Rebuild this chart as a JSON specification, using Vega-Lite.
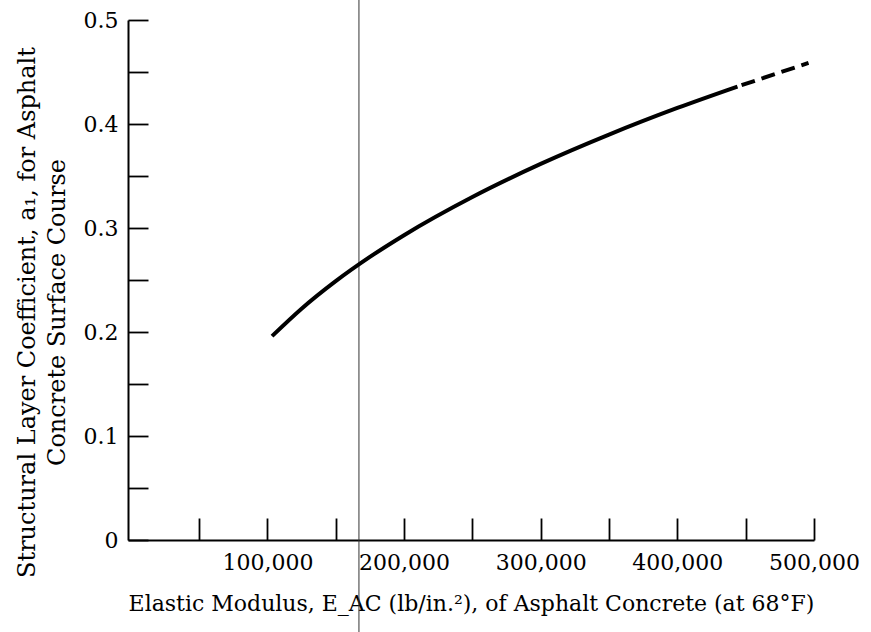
{
  "$schema": "https://vega.github.io/schema/vega-lite/v6.json",
  "width": 686,
  "height": 520,
  "autosize": "none",
  "padding": {"left": 128, "top": 20, "right": 57, "bottom": 92},
  "background": "white",
  "config": {"view": {"stroke": null}, "font": "DejaVu Serif"},
  "datasets": {
    "curve": [
      {"E": 103400, "a1": 0.196},
      {"E": 125000, "a1": 0.2224},
      {"E": 150000, "a1": 0.2489},
      {"E": 175000, "a1": 0.2722},
      {"E": 200000, "a1": 0.2931},
      {"E": 250000, "a1": 0.3298},
      {"E": 300000, "a1": 0.3616},
      {"E": 350000, "a1": 0.3898},
      {"E": 400000, "a1": 0.4154},
      {"E": 444000, "a1": 0.436}
    ],
    "dashed": [
      {"E": 447000, "a1": 0.4373},
      {"E": 496000, "a1": 0.4587}
    ],
    "vline": [
      {"E": 167000, "ytop": 0.52, "ybot": -0.09}
    ]
  },
  "layer": [
    {
      "data": {"name": "vline"},
      "mark": {"type": "rule", "color": "#333333", "strokeWidth": 1, "clip": false},
      "encoding": {
        "x": {"field": "E", "type": "quantitative", "scale": {"domain": [-2000, 500000], "nice": false}},
        "y": {"field": "ytop", "type": "quantitative", "scale": {"domain": [0, 0.5], "nice": false}},
        "y2": {"field": "ybot"}
      }
    },
    {
      "data": {"name": "curve"},
      "mark": {"type": "line", "color": "black", "strokeWidth": 4, "interpolate": "monotone", "strokeCap": "butt"},
      "encoding": {
        "x": {
          "field": "E", "type": "quantitative",
          "scale": {"domain": [-2000, 500000], "nice": false},
          "axis": {
            "values": [50000, 100000, 150000, 200000, 250000, 300000, 350000, 400000, 450000, 500000],
            "labelExpr": "datum.value % 100000 === 0 ? format(datum.value, ',') : ''",
            "labelFlush": false,
            "labelOverlap": false,
            "tickSize": -22,
            "tickWidth": 1.8,
            "tickColor": "black",
            "domainColor": "black",
            "domainWidth": 2,
            "labelPadding": 34,
            "labelFontSize": 22,
            "labelColor": "black",
            "labelFont": "DejaVu Serif",
            "grid": false,
            "title": "Elastic Modulus, E_AC (lb/in.²), of Asphalt Concrete (at 68°F)",
            "titleFont": "DejaVu Serif",
            "titleFontSize": 22,
            "titleFontWeight": "normal",
            "titleColor": "black",
            "titlePadding": 20
          }
        },
        "y": {
          "field": "a1", "type": "quantitative",
          "scale": {"domain": [0, 0.5], "nice": false},
          "axis": {
            "values": [0, 0.05, 0.1, 0.15, 0.2, 0.25, 0.3, 0.35, 0.4, 0.45, 0.5],
            "labelExpr": "(round(datum.value * 100) % 10 === 0) ? (datum.value === 0 ? '0' : format(datum.value, '.1f')) : ''",
            "labelFlush": false,
            "tickSize": -20,
            "tickWidth": 1.8,
            "tickColor": "black",
            "domainColor": "black",
            "domainWidth": 2,
            "labelPadding": 30,
            "labelFontSize": 22,
            "labelColor": "black",
            "labelFont": "DejaVu Serif",
            "grid": false,
            "title": ["Structural Layer Coefficient, a₁, for Asphalt", "Concrete Surface Course"],
            "titleFont": "DejaVu Serif",
            "titleFontSize": 24,
            "titleFontWeight": "normal",
            "titleColor": "black",
            "titlePadding": 14,
            "titleLineHeight": 30,
            "titleY": 292
          }
        }
      }
    },
    {
      "data": {"name": "dashed"},
      "mark": {"type": "line", "color": "black", "strokeWidth": 4, "strokeDash": [14, 7], "strokeCap": "butt"},
      "encoding": {
        "x": {"field": "E", "type": "quantitative"},
        "y": {"field": "a1", "type": "quantitative"}
      }
    }
  ]
}
